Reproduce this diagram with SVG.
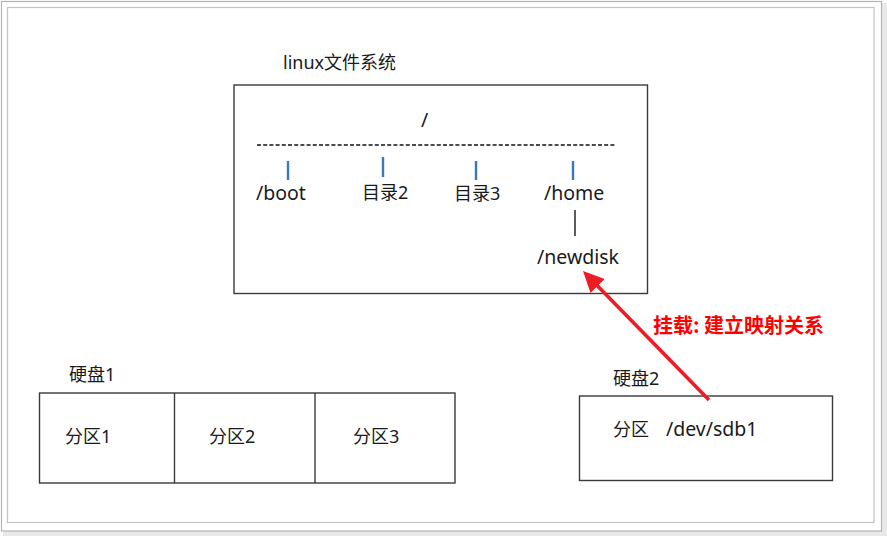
<svg xmlns="http://www.w3.org/2000/svg" width="887" height="536" viewBox="0 0 887 536">
<style>
.t{font-family:"Noto Sans","Open Sans","Noto Sans CJK SC",sans-serif;fill:#1a1a1a}
.f19{font-size:19.5px}
.f18{font-size:18px}
.box{fill:#fff;stroke:#3a3a3a;stroke-width:1.4}
.bar{stroke:#3a78b8;stroke-width:2.4}
.red{font-family:"Noto Sans CJK SC",serif;font-size:20px;font-weight:bold;fill:#ff0000}
</style>
<defs>
<marker id="ah" markerUnits="userSpaceOnUse" markerWidth="22" markerHeight="20" refX="13" refY="10" orient="auto">
<path d="M0,0 L21,10 L0,20 z" fill="#ee1c25"/>
</marker>
</defs>
<g id="frame">
<rect x="3" y="3" width="884" height="533" fill="#e9e9e9"/>
<rect x="1.5" y="1.5" width="880" height="529.5" fill="#fff" stroke="#b4b4b4" stroke-width="1.2"/>
<rect x="7.5" y="7.5" width="866.5" height="515" fill="none" stroke="#c4c4c4" stroke-width="1.2"/>
</g>
<g id="linux-fs">
<text class="t f18" x="283" y="69">linux文件系统</text>
<rect class="box" x="234" y="85" width="413.5" height="208.5"/>
<text class="t f19" x="421" y="127">/</text>
<line x1="257" y1="145" x2="615" y2="145" stroke="#111" stroke-width="1.6" stroke-dasharray="4,2.2"/>
<line class="bar" x1="288" y1="161" x2="288" y2="180"/>
<line class="bar" x1="383" y1="157" x2="383" y2="177"/>
<line class="bar" x1="476" y1="161" x2="476" y2="180"/>
<line class="bar" x1="573" y1="161" x2="573" y2="180"/>
<text class="t f19" x="256" y="200">/boot</text>
<text class="t f18" x="362" y="199">目录2</text>
<text class="t f18" x="454" y="200">目录3</text>
<text class="t f19" x="544" y="200">/home</text>
<line x1="575" y1="210" x2="575" y2="236" stroke="#333" stroke-width="1.6"/>
<text class="t f19" x="537" y="264">/newdisk</text>
</g>
<g id="disk1">
<text class="t f18" x="69" y="381">硬盘1</text>
<rect class="box" x="39.5" y="393" width="415.5" height="90"/>
<line x1="174.5" y1="393" x2="174.5" y2="483" stroke="#3a3a3a" stroke-width="1.4"/>
<line x1="315" y1="393" x2="315" y2="483" stroke="#3a3a3a" stroke-width="1.4"/>
<text class="t f18" x="65" y="443">分区1</text>
<text class="t f18" x="209" y="443">分区2</text>
<text class="t f18" x="353" y="443">分区3</text>
</g>
<g id="disk2">
<text class="t f18" x="613" y="385">硬盘2</text>
<rect class="box" x="579.5" y="396" width="253" height="84.5"/>
<text class="t f18" x="613" y="436">分区</text>
<text class="t f19" x="666" y="436">/dev/sdb1</text>
</g>
<g id="connectors">
<line x1="709" y1="400" x2="588.6" y2="276.7" stroke="#ee1c25" stroke-width="3.6" marker-end="url(#ah)"/>
<text class="red" x="653" y="333">挂载: 建立映射关系</text>
</g>
</svg>
